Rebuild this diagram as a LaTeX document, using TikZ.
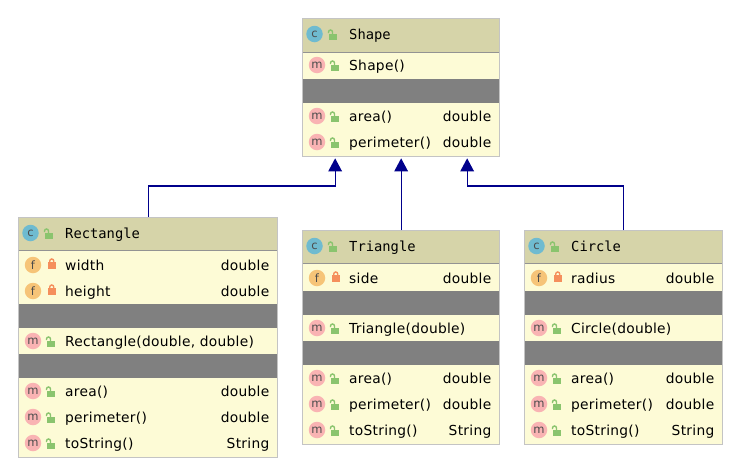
\documentclass[tikz,border=0pt]{standalone}
\usepackage{fontspec}
\setmainfont{DejaVu Sans}[LetterSpace=2]
\setmonofont{DejaVu Sans Mono}
\usetikzlibrary{arrows.meta, positioning, calc}

\definecolor{headfill}{HTML}{D6D4A9}
\definecolor{bodyfill}{HTML}{FDFBD6}
\definecolor{sepfill}{HTML}{808080}
\definecolor{edgegray}{HTML}{C4C4C4}
\definecolor{iconc}{HTML}{6FBBD0}
\definecolor{iconm}{HTML}{F9B3B3}
\definecolor{iconf}{HTML}{F6C478}
\definecolor{lockopen}{HTML}{8AC46E}
\definecolor{lockshut}{HTML}{F58F5C}
\definecolor{inherit}{HTML}{00008B}

% one member row: id, icon letter, lock, left edge, right edge, y, name, type
\newcommand{\member}[8]{
  \node[icon, fill=icon#2] (#1-icon) at (#4+15,#6) {#2};
  \pic at (#4+30,#6) {#3};
  \node[lbl] (#1-name) at (#4+47,#6+5) {#7};
  \node[typ] (#1-type) at (#5-7.5,#6+5) {#8};
}
% one class title row: id, left edge, y, name
\newcommand{\classtitle}[4]{
  \node[icon, fill=iconc] (#1-icon) at (#2+12.5,#3) {c};
  \pic at (#2+28,#3) {lockopen};
  \node[ttl] (#1-name) at (#2+47,#3+5) {#4};
}

\begin{document}
\begin{tikzpicture}[
  x=1pt, y=-1pt,
  classbox/.style={rectangle, draw=edgegray, line width=1.3pt, anchor=north west, inner sep=0pt},
  body/.style={classbox, fill=bodyfill},
  head/.style={rectangle, fill=headfill, anchor=north west, inner sep=0pt},
  sep/.style={rectangle, fill=sepfill, anchor=north west, inner sep=0pt},
  icon/.style={circle, inner sep=0pt, minimum size=16.5pt, font=\fontsize{11.5}{11}\selectfont, text=black!70},
  lbl/.style={anchor=base west, inner sep=0pt, font=\fontsize{13.8}{14}\selectfont},
  typ/.style={anchor=base east, inner sep=0pt, font=\fontsize{13.8}{14}\selectfont},
  ttl/.style={anchor=base west, inner sep=0pt, font=\fontsize{13.8}{14}\ttfamily},
  arr/.style={-{Triangle[width=13.5pt, length=13pt]}, line width=1.3pt, inherit},
  lockopen/.pic={
    \fill[lockopen] (-1,0) rectangle (7,6);
    \draw[lockopen, line width=1.4pt] (2.5,0) -- (2.5,-2) arc[start angle=0, end angle=-180, radius=2] -- (-1.5,-1);
  },
  lockshut/.pic={
    \fill[lockshut] (0,-3) rectangle (7.5,4);
    \draw[lockshut, line width=1.4pt] (1.75,-3) -- (1.75,-4) arc[start angle=180, end angle=360, radius=2] -- (5.75,-3);
  },
]
\useasboundingbox (0,0) rectangle (740,469);

% Shape
\node[body, minimum width=197pt, minimum height=138pt] (shape) at (302,18) {};
\node[head, minimum width=196pt, minimum height=33pt] (shapehead) at (302.5,18.5) {};
\draw[sepfill!85, line width=.7pt] (shapehead.south west) -- (shapehead.south east);
\node[sep, minimum width=196pt, minimum height=24pt] (shapesep) at (302.5,79) {};
\classtitle{shapetitle}{302}{34}{Shape}
\member{shape1}{m}{lockopen}{302}{499}{65}{Shape()}{}
\member{shape2}{m}{lockopen}{302}{499}{116}{area()}{double}
\member{shape3}{m}{lockopen}{302}{499}{142}{perimeter()}{double}

% Rectangle
\node[body, minimum width=259pt, minimum height=240pt] (rectangle) at (18,217) {};
\node[head, minimum width=258pt, minimum height=32pt] (recthead) at (18.5,217.5) {};
\draw[sepfill!85, line width=.7pt] (recthead.south west) -- (recthead.south east);
\node[sep, minimum width=258pt, minimum height=24pt] (rectsep1) at (18.5,304) {};
\node[sep, minimum width=258pt, minimum height=24pt] (rectsep2) at (18.5,354) {};
\classtitle{recttitle}{18}{233}{Rectangle}
\member{rect1}{f}{lockshut}{18}{277}{265}{width}{double}
\member{rect2}{f}{lockshut}{18}{277}{291}{height}{double}
\member{rect3}{m}{lockopen}{18}{277}{341}{Rectangle(double, double)}{}
\member{rect4}{m}{lockopen}{18}{277}{391}{area()}{double}
\member{rect5}{m}{lockopen}{18}{277}{417}{perimeter()}{double}
\member{rect6}{m}{lockopen}{18}{277}{443}{toString()}{String}

% Triangle
\node[body, minimum width=197pt, minimum height=214pt] (triangle) at (302,230) {};
\node[head, minimum width=196pt, minimum height=32pt] (trihead) at (302.5,230.5) {};
\draw[sepfill!85, line width=.7pt] (trihead.south west) -- (trihead.south east);
\node[sep, minimum width=196pt, minimum height=24pt] (trisep1) at (302.5,291) {};
\node[sep, minimum width=196pt, minimum height=24pt] (trisep2) at (302.5,341) {};
\classtitle{trititle}{302}{246}{Triangle}
\member{tri1}{f}{lockshut}{302}{499}{278}{side}{double}
\member{tri2}{m}{lockopen}{302}{499}{328}{Triangle(double)}{}
\member{tri3}{m}{lockopen}{302}{499}{378}{area()}{double}
\member{tri4}{m}{lockopen}{302}{499}{404}{perimeter()}{double}
\member{tri5}{m}{lockopen}{302}{499}{430}{toString()}{String}

% Circle
\node[body, minimum width=198pt, minimum height=214pt] (circle) at (524,230) {};
\node[head, minimum width=197pt, minimum height=32pt] (circhead) at (524.5,230.5) {};
\draw[sepfill!85, line width=.7pt] (circhead.south west) -- (circhead.south east);
\node[sep, minimum width=197pt, minimum height=24pt] (circsep1) at (524.5,291) {};
\node[sep, minimum width=197pt, minimum height=24pt] (circsep2) at (524.5,341) {};
\classtitle{circtitle}{524}{246}{Circle}
\member{circ1}{f}{lockshut}{524}{722}{278}{radius}{double}
\member{circ2}{m}{lockopen}{524}{722}{328}{Circle(double)}{}
\member{circ3}{m}{lockopen}{524}{722}{378}{area()}{double}
\member{circ4}{m}{lockopen}{524}{722}{404}{perimeter()}{double}
\member{circ5}{m}{lockopen}{524}{722}{430}{toString()}{String}

% Arrows
\draw[arr] (rectangle.north) -- ++(0,-31) -| ($(shape.south)+(-66,1)$);
\draw[arr] (triangle.north) -- ($(shape.south)+(0,1)$);
\draw[arr] (circle.north) -- ++(0,-44) -| ($(shape.south)+(66,1)$);

\end{tikzpicture}
\end{document}
